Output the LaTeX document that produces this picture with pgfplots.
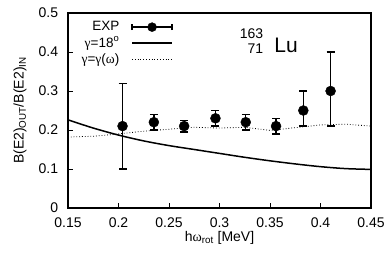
\documentclass[border=0pt]{standalone}
\usepackage{fontspec}
\setmainfont{Liberation Sans}
\newfontfamily\grk{Liberation Serif}
\usepackage{pgfplots}
\pgfplotsset{compat=1.18}
\pgfplotsset{
  longline/.style={legend image code/.code={\draw[##1] (0pt,0pt) -- (40pt,0pt);}},
  explegend/.style={legend image code/.code={
     \draw[black, line width=1.3pt] (0pt,0pt) -- (40pt,0pt) (0pt,-3pt) -- (0pt,3pt) (40pt,-3pt) -- (40pt,3pt);
     \fill[black] (20pt,0pt) circle (4.5pt);}},
}
\pgfplotstableread{
x y ep em
0.204 0.21 0.11 0.11
0.235 0.22 0.02 0.02
0.265 0.21 0.015 0.015
0.296 0.23 0.02 0.02
0.326 0.22 0.02 0.02
0.356 0.21 0.02 0.02
0.383 0.25 0.05 0.04
0.410 0.30 0.10 0.09
}\exptable
\begin{document}
\fontsize{14}{16}\selectfont
\begin{tikzpicture}
\begin{axis}[
 scale only axis, width=303pt, height=195pt,
 xmin=0.15, xmax=0.45, ymin=0, ymax=0.5,
 xtick={0.15,0.2,0.25,0.3,0.35,0.4,0.45},
 xticklabels={0.15,0.2,0.25,0.3,0.35,0.4,0.45},
 ytick={0,0.1,0.2,0.3,0.4,0.5},
 yticklabels={0,0.1,0.2,0.3,0.4,0.5},
 tick pos=left, tick align=inside, major tick length=5pt,
 axis line style={line width=1.5pt},
 every tick/.style={black, line width=1pt},
 tick label style={font=\fontsize{14}{16}\selectfont},
 xticklabel style={yshift=-5pt},
 yticklabel style={xshift=-5pt},
 xlabel={h{\grk ω}\textsubscript{rot} [MeV]},
 ylabel={B(E2)\textsubscript{OUT}/B(E2)\textsubscript{IN}},
 label style={font=\fontsize{14}{16}\selectfont},
 xlabel style={at={(axis description cs:0.5,-0.154)}, anchor=center},
 ylabel style={at={(axis description cs:-0.158,0.5)}, anchor=center},
 legend style={draw=none, fill=none, at={(axis cs:0.254,0.484)}, anchor=north east,
   font=\fontsize{13.5}{13.5}\selectfont, row sep=0pt, column sep=10pt, inner sep=0pt},
 legend plot pos=right, legend cell align=right,
]
\addplot+[only marks, black, mark=*, mark size=5pt, mark options={fill=black}, explegend,
  error bars/.cd, y dir=both, y explicit,
  error bar style={line width=1.3pt, black},
  error mark options={rotate=90, mark size=4pt, line width=1.3pt, black},
  ] table[x=x, y=y, y error plus=ep, y error minus=em] {\exptable};
\addlegendentry{EXP}
\addplot[black, line width=1.5pt, smooth, longline] coordinates {
(0.15,0.226) (0.175,0.205) (0.2,0.187) (0.225,0.172) (0.25,0.160) (0.275,0.150)
(0.3,0.140) (0.325,0.130) (0.35,0.121) (0.375,0.113) (0.4,0.106) (0.425,0.101) (0.45,0.099)};
\addlegendentry{{\grk γ}=18$^\mathrm{o}$}
\addplot[black, dotted, line width=0.8pt, longline] coordinates {
(0.15,0.182) (0.175,0.184) (0.2,0.190) (0.225,0.197) (0.25,0.202) (0.275,0.207)
(0.3,0.205) (0.325,0.207) (0.35,0.199) (0.375,0.206) (0.4,0.213) (0.425,0.215) (0.45,0.210)};
\addlegendentry{{\grk γ}={\grk γ}({\grk ω})}
\node[font=\fontsize{14}{14}\selectfont, anchor=east] at (axis cs:0.348,0.446) {163};
\node[font=\fontsize{14}{14}\selectfont, anchor=east] at (axis cs:0.348,0.408) {71};
\node[font=\fontsize{21}{22}\selectfont] at (axis cs:0.366,0.417) {Lu};
\end{axis}
\pgfresetboundingbox
\path ([shift={(-68pt,-50pt)}]current axis.south west) rectangle ([shift={(19pt,13pt)}]current axis.north east);
\end{tikzpicture}
\end{document}
